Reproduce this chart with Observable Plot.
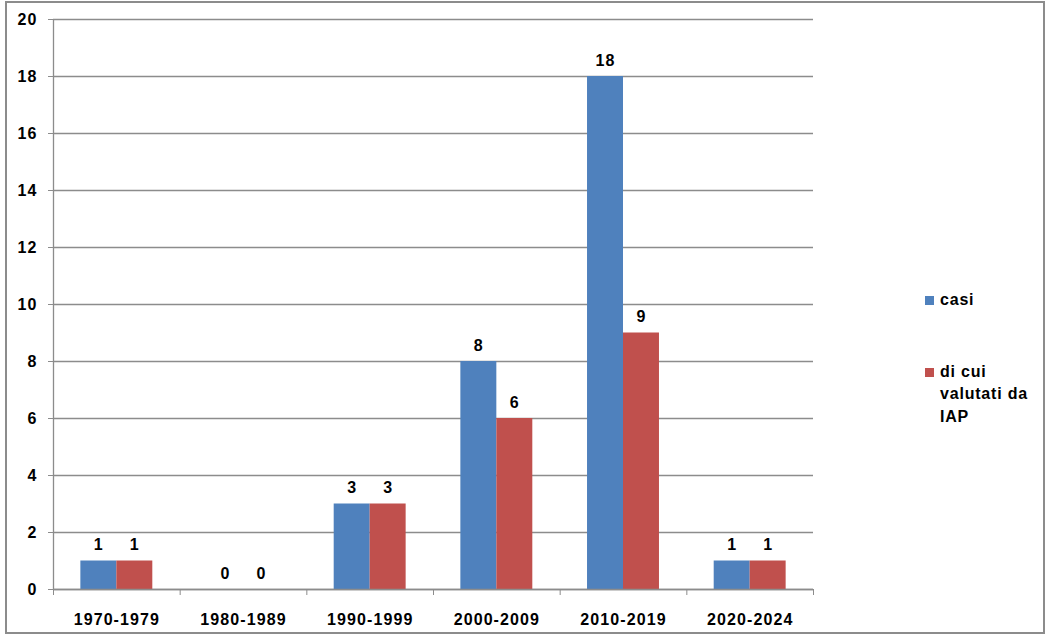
<!DOCTYPE html>
<html>
<head>
<meta charset="utf-8">
<script src="https://cdn.jsdelivr.net/npm/d3@7"></script>
<script src="https://cdn.jsdelivr.net/npm/@observablehq/plot@0.6"></script>
<style>
  html, body { margin: 0; padding: 0; background: #fff; }
  #wrap { position: relative; width: 1052px; height: 640px; overflow: hidden;
          font-family: "Liberation Sans", Arial, sans-serif; }
  #frame { position: absolute; left: 5px; top: 1px; width: 1036px; height: 629px;
           border: 2px solid #8c8c8c; pointer-events: none; }
  #legend { position: absolute; left: 925px; top: 289px; font-weight: bold;
            font-size: 16px; letter-spacing: 0.8px; color: #000; line-height: 22.5px; }
  .item { display: flex; align-items: flex-start; }
  .sw { width: 9px; height: 9px; margin-top: 7px; margin-right: 6px; flex: none; }
</style>
</head>
<body>
<div id="wrap">
  <div id="chart"></div>
  <div id="frame"></div>
  <div id="legend"></div>
</div>
<script>
const periods = ["1970-1979", "1980-1989", "1990-1999", "2000-2009", "2010-2019", "2020-2024"];
const casi = [1, 0, 3, 8, 18, 1];
const valutatiIAP = [1, 0, 3, 6, 9, 1];
const seriesNames = ["casi", "di cui valutati da IAP"];
const seriesLegend = ["casi", "di cui<br>valutati da<br>IAP"];
const colors = ["#4F81BD", "#C0504D"];
const yTicks = [0, 2, 4, 6, 8, 10, 12, 14, 16, 18, 20];

const barShare = 0.284; // bar width as share of a category slot
const rows = [];
periods.forEach((p, i) => {
  [casi[i], valutatiIAP[i]].forEach((v, s) => {
    const x1 = s === 0 ? i + 0.5 - barShare : i + 0.5;
    rows.push({period: p, series: seriesNames[s], value: v, x1, x2: x1 + barShare, xm: x1 + barShare / 2});
  });
});

const chart = Plot.plot({
  width: 1052,
  height: 640,
  marginLeft: 53,
  marginRight: 239,
  marginTop: 19,
  marginBottom: 51,
  style: {fontFamily: "'Liberation Sans', Arial, sans-serif", fontSize: "16px", fontWeight: "bold", color: "#000", letterSpacing: "1.1px", background: "transparent"},
  x: {domain: [0, periods.length], axis: null},
  y: {domain: [0, 20], axis: null},
  color: {domain: seriesNames, range: colors},
  marks: [
    Plot.gridY(yTicks, {stroke: "#8c8c8c", strokeOpacity: 1, strokeWidth: 1.3}),
    Plot.rectY(rows, {x1: "x1", x2: "x2", y: "value", fill: "series"}),
    Plot.text(rows, {x: "xm", y: "value", text: d => String(d.value), dy: -16, fill: "#000"}),
    Plot.ruleY([0], {stroke: "#8c8c8c", strokeWidth: 1.3}),
    Plot.ruleX([0], {stroke: "#8c8c8c", strokeWidth: 1.3}),
    Plot.axisY({ticks: yTicks, label: null, tickSize: 5, tickPadding: 11, stroke: "#8c8c8c", fill: "#000", tickFormat: d => String(d)}),
    Plot.axisX({ticks: d3.range(0, periods.length + 1), label: null, tickSize: 6, tickFormat: () => "", stroke: "#8c8c8c"}),
    Plot.axisX({ticks: periods.map((p, i) => i + 0.5), label: null, tickSize: 0, tickPadding: 24, tickFormat: d => periods[Math.floor(d)], fill: "#000"})
  ]
});
document.getElementById("chart").appendChild(chart);

const legend = document.getElementById("legend");
seriesLegend.forEach((name, i) => {
  const item = document.createElement("div");
  item.className = "item";
  item.style.marginBottom = i === 0 ? "49px" : "0";
  item.innerHTML = `<div class="sw" style="background:${colors[i]}"></div><div>${name}</div>`;
  legend.appendChild(item);
});
</script>
</body>
</html>
